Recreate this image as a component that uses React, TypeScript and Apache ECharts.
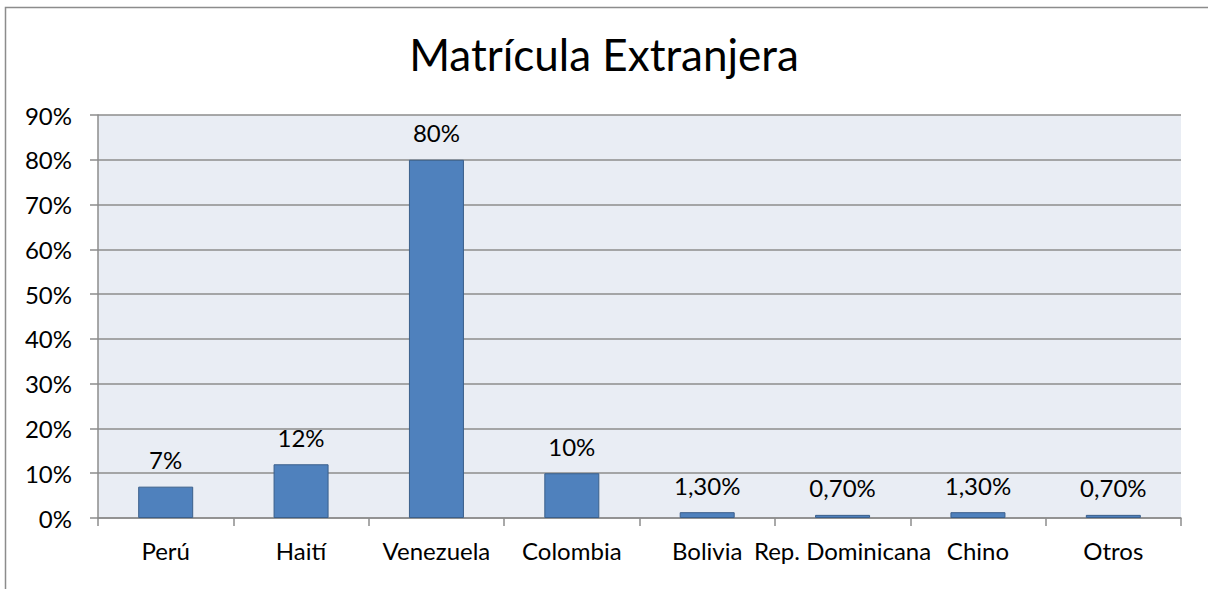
import React, { useEffect, useRef } from "react";
import * as echarts from "echarts";

const titleText = "Matrícula Extranjera";
const categories = ["Perú", "Haití", "Venezuela", "Colombia", "Bolivia", "Rep. Dominicana", "Chino", "Otros"];
const values = [7, 12, 80, 10, 1.3, 0.7, 1.3, 0.7];
const valueLabels = ["7%", "12%", "80%", "10%", "1,30%", "0,70%", "1,30%", "0,70%"];
const yMax = 90;
const yInterval = 10;

const FONT = "Lato";

export default function App() {
  const ref = useRef<HTMLDivElement>(null);
  useEffect(() => {
    document.body.style.margin = "0";
    const chart = echarts.init(ref.current!, null, { renderer: "svg" });
    chart.setOption({
      animation: false,
      backgroundColor: "#ffffff",
      textStyle: { fontFamily: FONT },
      title: {
        text: titleText,
        left: "center",
        top: 27,
        textStyle: { fontFamily: FONT, fontSize: 44, fontWeight: "normal", color: "#000000" },
      },
      graphic: [
        {
          type: "rect",
          shape: { x: 5.5, y: 7.5, width: 1300, height: 700 },
          style: { fill: "none", stroke: "#8c8c8c", lineWidth: 1.5 },
          silent: true,
        },
      ],
      grid: {
        left: 98,
        right: 27,
        top: 115,
        bottom: 71,
        show: true,
        backgroundColor: "#e9edf4",
        borderWidth: 0,
      },
      xAxis: {
        type: "category",
        data: categories,
        axisLine: { show: true, lineStyle: { color: "#8c8c8c", width: 1.5 } },
        axisTick: { show: true, length: 8, alignWithLabel: false, lineStyle: { color: "#8c8c8c", width: 1.5 } },
        axisLabel: { color: "#000000", fontSize: 24, fontFamily: FONT, margin: 20, interval: 0 },
      },
      yAxis: {
        type: "value",
        min: 0,
        max: yMax,
        interval: yInterval,
        axisLine: { show: true, lineStyle: { color: "#8c8c8c", width: 1.5 } },
        axisTick: { show: true, length: 8, lineStyle: { color: "#8c8c8c", width: 1.5 } },
        splitLine: { show: true, lineStyle: { color: "#8c8c8c", width: 1.5 } },
        axisLabel: { color: "#000000", fontSize: 24, fontFamily: FONT, margin: 26, formatter: "{value}%" },
      },
      series: [
        {
          type: "bar",
          data: values,
          barWidth: 55,
          itemStyle: { color: "#4f81bd", borderColor: "#3a5f8b", borderWidth: 1 },
          label: {
            show: true,
            position: "top",
            distance: 15,
            color: "#000000",
            fontSize: 24,
            fontFamily: FONT,
            formatter: (p: any) => valueLabels[p.dataIndex],
          },
        },
      ],
    });
    return () => chart.dispose();
  }, []);
  return <div ref={ref} style={{ width: 1208, height: 589 }} />;
}
